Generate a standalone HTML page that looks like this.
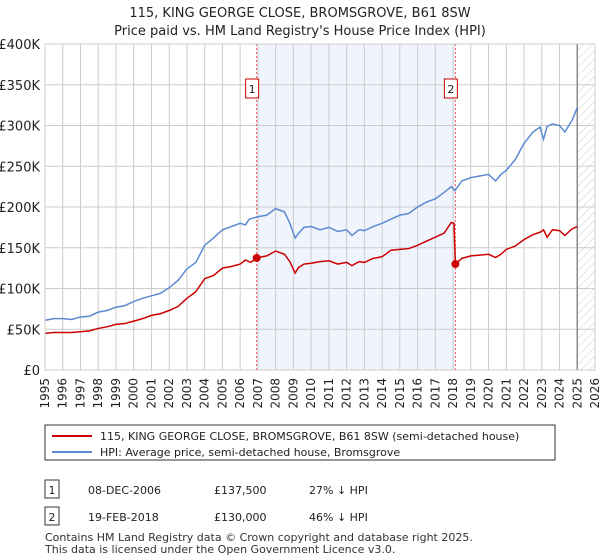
<!DOCTYPE html>
<html><head><meta charset="utf-8"><style>
body{margin:0;background:#fff;font-family:"Liberation Sans","DejaVu Sans",sans-serif;}
#wrap{position:relative;width:600px;height:560px;overflow:hidden}
svg text{font-family:"DejaVu Sans","Liberation Sans",sans-serif}
</style></head><body><div id="wrap">
<svg id="c" width="600" height="560" xmlns="http://www.w3.org/2000/svg"></svg>
</div>
<script>
const yTicks=[0,50,100,150,200,250,300,350,400];
const yTickLabels=["£0","£50K","£100K","£150K","£200K","£250K","£300K","£350K","£400K"];
const xYears=[1995,1996,1997,1998,1999,2000,2001,2002,2003,2004,2005,2006,2007,2008,2009,2010,2011,2012,2013,2014,2015,2016,2017,2018,2019,2020,2021,2022,2023,2024,2025,2026];
const hpiT=[1995,1995.5,1996,1996.5,1997,1997.5,1998,1998.5,1999,1999.5,2000,2000.5,2001,2001.5,2002,2002.5,2003,2003.5,2004,2004.5,2005,2005.5,2006,2006.3,2006.5,2007,2007.5,2008,2008.5,2008.8,2009.1,2009.3,2009.6,2010,2010.5,2011,2011.5,2012,2012.3,2012.7,2013,2013.5,2014,2014.5,2015,2015.5,2016,2016.5,2017,2017.5,2017.9,2018.1,2018.5,2019,2019.5,2020,2020.4,2020.7,2021,2021.5,2022,2022.5,2022.9,2023.1,2023.3,2023.6,2024,2024.3,2024.7,2025];
const hpiV=[61,63,63,62,65,66,71,73,77,79,84,88,91,94,101,110,124,132,153,162,172,176,180,178,185,188,190,198,194,180,162,168,175,176,172,175,170,172,165,172,171,176,180,185,190,192,200,206,210,218,225,220,232,236,238,240,232,240,245,258,278,292,298,283,299,302,300,292,306,322];
const redT=[1995,1995.5,1996,1996.5,1997,1997.5,1998,1998.5,1999,1999.5,2000,2000.5,2001,2001.5,2002,2002.5,2003,2003.5,2004,2004.5,2005,2005.5,2006,2006.3,2006.6,2006.93,2007.5,2008,2008.5,2008.8,2009.1,2009.3,2009.6,2010,2010.5,2011,2011.5,2012,2012.3,2012.7,2013,2013.5,2014,2014.5,2015,2015.5,2016,2016.5,2017,2017.5,2017.9,2018.05,2018.13,2018.5,2019,2019.5,2020,2020.4,2020.7,2021,2021.5,2022,2022.5,2022.9,2023.1,2023.3,2023.6,2024,2024.3,2024.7,2025];
const redV=[45,46,46,46,47,48,51,53,56,57,60,63,67,69,73,78,88,96,112,116,125,127,130,135,132,137.5,140,146,142,133,119,126,130,131,133,134,130,132,128,133,132,137,139,147,148,149,153,158,163,168,181,180,130,137,140,141,142,138,142,148,152,160,166,169,172,163,172,171,165,173,176];
const sales=[{t:2006.93,v:137.5,n:"1"},{t:2018.13,v:130,n:"2"}];
const X0=45,X1=595,Y0=370,Y1=44;
const x=t=>X0+(t-1995)/(2026-1995)*(X1-X0);
const y=v=>Y0-v/400*(Y0-Y1);
const s=document.getElementById('c');const NS="http://www.w3.org/2000/svg";
function el(tag,a,txt){const e=document.createElementNS(NS,tag);for(const k in a)e.setAttribute(k,a[k]);if(txt!=null)e.textContent=txt;s.appendChild(e);return e;}
let e;
e=el('text',{x:300,y:17,'text-anchor':'middle','font-size':13,fill:'#222'},"115, KING GEORGE CLOSE, BROMSGROVE, B61 8SW");


e=el('text',{x:300,y:35,'text-anchor':'middle','font-size':13,fill:'#222'},"Price paid vs. HM Land Registry's House Price Index (HPI)");


e=el('rect',{x:x(sales[0].t),y:Y1,width:x(sales[1].t)-x(sales[0].t),height:Y0-Y1,fill:'#f0f4fd'});


const defs=document.createElementNS(NS,'defs');defs.innerHTML='<pattern id="h" width="6" height="6" patternUnits="userSpaceOnUse" patternTransform="rotate(45)"><line x1="0" y1="0" x2="0" y2="6" stroke="#ccc" stroke-width="1"/></pattern>';s.appendChild(defs);
e=el('rect',{x:x(2025),y:Y1,width:X1-x(2025),height:Y0-Y1,fill:'url(#h)'});


xYears.forEach(t=>{e=el('line',{x1:x(t),x2:x(t),y1:Y1,y2:Y0,stroke:'#ccc'});


e=el('text',{transform:`translate(${x(t)+4},${Y0+8}) rotate(-90)`,'text-anchor':'end','font-size':12,fill:'#222'},String(t));

});
yTicks.forEach((v,i)=>{e=el('line',{x1:X0,x2:X1,y1:y(v),y2:y(v),stroke:'#ccc'});


e=el('text',{x:X0-5,y:y(v)+5,'text-anchor':'end','font-size':13,fill:'#222'},yTickLabels[i]);

});
e=el('line',{x1:x(2025),x2:x(2025),y1:Y1,y2:Y0,stroke:'#888','stroke-width':1.5});


sales.forEach(p=>{e=el('line',{x1:x(p.t),x2:x(p.t),y1:Y1,y2:Y0,stroke:'#e55','stroke-dasharray':'2,2'});


e=el('rect',{x:x(p.t)-11,y:79,width:13,height:19,fill:'#fff',stroke:'#c00'});


e=el('text',{x:x(p.t)-4.5,y:93,'text-anchor':'middle','font-size':11,fill:'#222'},p.n);

});
e=el('polyline',{points:hpiT.map((t,i)=>x(t)+','+y(hpiV[i])).join(' '),fill:'none',stroke:'#5b8bd0','stroke-width':1.5});


e=el('polyline',{points:redT.map((t,i)=>x(t)+','+y(redV[i])).join(' '),fill:'none',stroke:'#cc0000','stroke-width':1.5});


sales.forEach(p=>{e=el('circle',{cx:x(p.t),cy:y(p.v),r:4,fill:'#cc0000'});

});
e=el('rect',{x:X0,y:Y1,width:X1-X0,height:Y0-Y1,fill:'none',stroke:'#ccc'});


e=el('rect',{x:45,y:425,width:510,height:35,fill:'#fff',stroke:'#333'});


e=el('line',{x1:52,x2:92,y1:436,y2:436,stroke:'#cc0000','stroke-width':2});


e=el('text',{x:100,y:440,'font-size':11,fill:'#222'},"115, KING GEORGE CLOSE, BROMSGROVE, B61 8SW (semi-detached house)");


e=el('line',{x1:52,x2:92,y1:452,y2:452,stroke:'#5b8bd0','stroke-width':2});


e=el('text',{x:100,y:456,'font-size':11,fill:'#222'},"HPI: Average price, semi-detached house, Bromsgrove");


const rows=[["1","08-DEC-2006","£137,500","27% ↓ HPI",490],["2","19-FEB-2018","£130,000","46% ↓ HPI",517]];
rows.forEach(r=>{e=el('rect',{x:45,y:r[4]-10,width:14,height:18,fill:'#fff',stroke:'#333'});


e=el('text',{x:52,y:r[4]+4,'text-anchor':'middle','font-size':11,fill:'#222'},r[0]);


e=el('text',{x:88,y:r[4]+4,'font-size':11,fill:'#222'},r[1]);


e=el('text',{x:214,y:r[4]+4,'font-size':11,fill:'#222'},r[2]);


e=el('text',{x:309,y:r[4]+4,'font-size':11,fill:'#222'},r[3]);

});
e=el('text',{x:45,y:541,'font-size':11,fill:'#333'},"Contains HM Land Registry data © Crown copyright and database right 2025.");


e=el('text',{x:45,y:553,'font-size':11,fill:'#333'},"This data is licensed under the Open Government Licence v3.0.");


</script></body></html>
